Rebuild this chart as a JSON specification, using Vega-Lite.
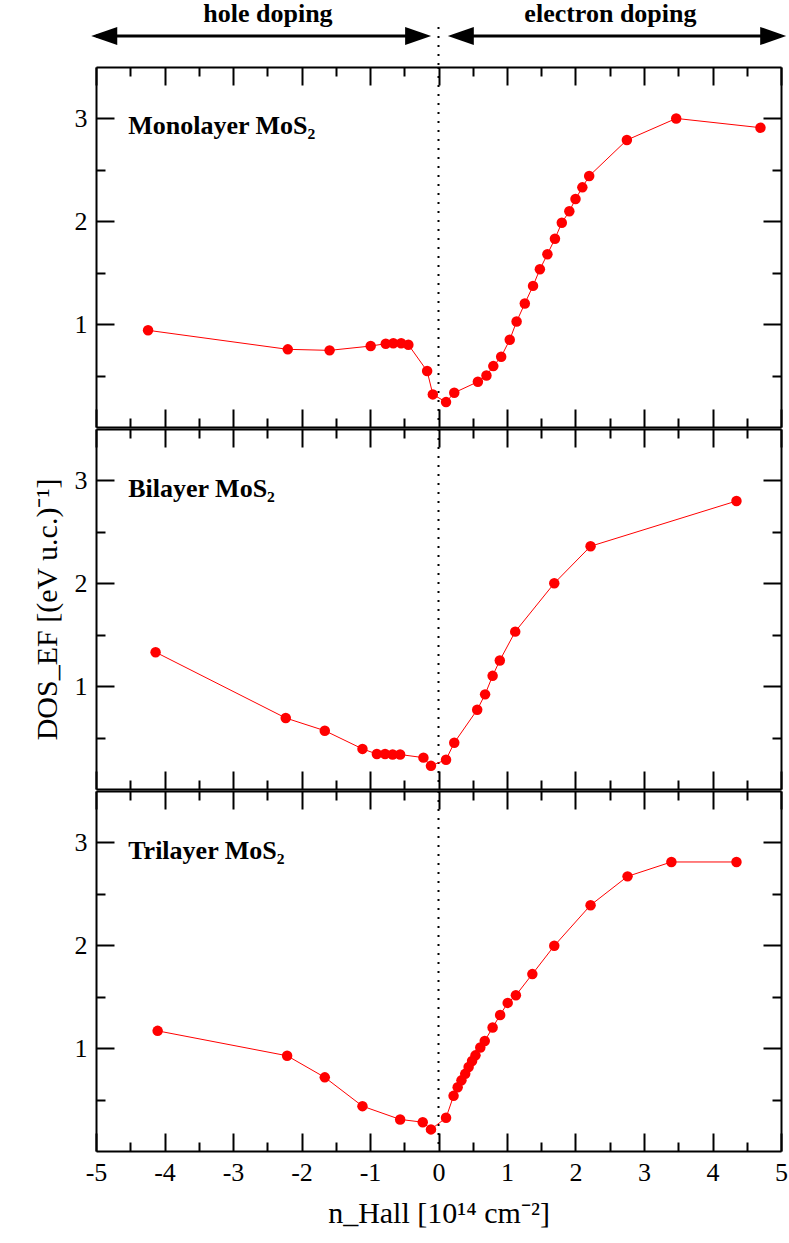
{
  "$schema": "https://vega.github.io/schema/vega-lite/v6.json",
  "padding": {"left": 32, "top": 1, "right": 0, "bottom": 0},
  "background": "white",
  "spacing": 0,
  "datasets": {
    "mono": [
      {"n": -4.24, "dos": 0.94}, {"n": -2.2, "dos": 0.755}, {"n": -1.59, "dos": 0.745}, {"n": -0.99, "dos": 0.787},
      {"n": -0.77, "dos": 0.81}, {"n": -0.66, "dos": 0.815}, {"n": -0.545, "dos": 0.815}, {"n": -0.44, "dos": 0.8},
      {"n": -0.166, "dos": 0.544}, {"n": -0.083, "dos": 0.317}, {"n": 0.11, "dos": 0.242}, {"n": 0.23, "dos": 0.333},
      {"n": 0.575, "dos": 0.44}, {"n": 0.7, "dos": 0.5}, {"n": 0.8, "dos": 0.592}, {"n": 0.915, "dos": 0.683},
      {"n": 1.04, "dos": 0.848}, {"n": 1.14, "dos": 1.025}, {"n": 1.26, "dos": 1.2}, {"n": 1.38, "dos": 1.372},
      {"n": 1.48, "dos": 1.533}, {"n": 1.59, "dos": 1.68}, {"n": 1.7, "dos": 1.83}, {"n": 1.8, "dos": 1.986},
      {"n": 1.91, "dos": 2.097}, {"n": 2.0, "dos": 2.216}, {"n": 2.1, "dos": 2.33}, {"n": 2.2, "dos": 2.44},
      {"n": 2.75, "dos": 2.79}, {"n": 3.47, "dos": 3.0}, {"n": 4.7, "dos": 2.91}
    ],
    "bi": [
      {"n": -4.13, "dos": 1.33}, {"n": -2.23, "dos": 0.69}, {"n": -1.66, "dos": 0.567}, {"n": -1.11, "dos": 0.39},
      {"n": -0.9, "dos": 0.34}, {"n": -0.78, "dos": 0.34}, {"n": -0.67, "dos": 0.335}, {"n": -0.56, "dos": 0.335},
      {"n": -0.22, "dos": 0.305}, {"n": -0.11, "dos": 0.225}, {"n": 0.11, "dos": 0.285}, {"n": 0.23, "dos": 0.45},
      {"n": 0.565, "dos": 0.77}, {"n": 0.68, "dos": 0.92}, {"n": 0.79, "dos": 1.1}, {"n": 0.895, "dos": 1.25},
      {"n": 1.12, "dos": 1.53}, {"n": 1.69, "dos": 2.0}, {"n": 2.22, "dos": 2.36}, {"n": 4.35, "dos": 2.8}
    ],
    "tri": [
      {"n": -4.1, "dos": 1.168}, {"n": -2.21, "dos": 0.926}, {"n": -1.66, "dos": 0.716}, {"n": -1.11, "dos": 0.436},
      {"n": -0.56, "dos": 0.307}, {"n": -0.23, "dos": 0.28}, {"n": -0.11, "dos": 0.21}, {"n": 0.11, "dos": 0.323},
      {"n": 0.22, "dos": 0.536}, {"n": 0.28, "dos": 0.62}, {"n": 0.335, "dos": 0.687}, {"n": 0.39, "dos": 0.75},
      {"n": 0.44, "dos": 0.816}, {"n": 0.49, "dos": 0.875}, {"n": 0.54, "dos": 0.93}, {"n": 0.61, "dos": 1.007},
      {"n": 0.675, "dos": 1.07}, {"n": 0.79, "dos": 1.2}, {"n": 0.9, "dos": 1.323}, {"n": 1.01, "dos": 1.44},
      {"n": 1.13, "dos": 1.514}, {"n": 1.37, "dos": 1.72}, {"n": 1.69, "dos": 1.995}, {"n": 2.22, "dos": 2.39},
      {"n": 2.76, "dos": 2.67}, {"n": 3.4, "dos": 2.81}, {"n": 4.35, "dos": 2.81}
    ]
  },
  "vconcat": [
    {
      "width": 685,
      "height": 64,
      "layer": [
        {
          "data": {"values": [{"x1": -5.0, "x2": -0.2, "y": 0.453}, {"x1": 0.25, "x2": 5.0, "y": 0.453}]},
          "mark": {"type": "rule", "strokeWidth": 3, "color": "black"},
          "encoding": {
            "x": {"field": "x1", "type": "quantitative", "scale": {"domain": [-5, 5], "nice": false, "zero": false}, "axis": null},
            "x2": {"field": "x2"},
            "y": {"field": "y", "type": "quantitative", "scale": {"domain": [0, 1], "nice": false, "zero": false}, "axis": null}
          }
        },
        {
          "data": {"values": [{"x": -4.88, "y": 0.453, "dir": "left"}, {"x": -0.297, "y": 0.453, "dir": "right"}, {"x": 0.326, "y": 0.453, "dir": "left"}, {"x": 4.886, "y": 0.453, "dir": "right"}]},
          "mark": {"type": "point", "filled": true, "color": "black", "opacity": 1, "strokeWidth": 0},
          "encoding": {
            "x": {"field": "x", "type": "quantitative", "scale": {"domain": [-5, 5], "nice": false, "zero": false}, "axis": null},
            "y": {"field": "y", "type": "quantitative", "scale": {"domain": [0, 1], "nice": false, "zero": false}, "axis": null},
            "shape": {"field": "dir", "type": "nominal", "scale": {"domain": ["left", "right"], "range": ["M-1,0L1,-0.7L1,0.7Z", "M1,0L-1,-0.7L-1,0.7Z"]}, "legend": null},
            "size": {"value": 676}
          }
        },
        {
          "data": {"values": [{"x": -2.49, "y": 0.79, "t": "hole doping"}, {"x": 2.51, "y": 0.79, "t": "electron doping"}]},
          "mark": {"type": "text", "font": "Liberation Serif", "fontWeight": "bold", "fontSize": 26, "baseline": "middle", "align": "center", "color": "black"},
          "encoding": {
            "x": {"field": "x", "type": "quantitative", "scale": {"domain": [-5, 5], "nice": false, "zero": false}, "axis": null},
            "y": {"field": "y", "type": "quantitative", "scale": {"domain": [0, 1], "nice": false, "zero": false}, "axis": null},
            "text": {"field": "t"}
          }
        },
        {
          "data": {"values": [{"x": 0, "y1": 0, "y2": 0.69}]},
          "mark": {"type": "rule", "strokeDash": [2, 7], "strokeWidth": 2, "color": "black"},
          "encoding": {
            "x": {"field": "x", "type": "quantitative", "scale": {"domain": [-5, 5], "nice": false, "zero": false}, "axis": null},
            "y": {"field": "y1", "type": "quantitative", "scale": {"domain": [0, 1], "nice": false, "zero": false}, "axis": null},
            "y2": {"field": "y2"}
          }
        }
      ]
    },
    {
      "width": 685,
      "height": 360,
      "data": {"name": "mono"},
      "resolve": {"axis": {"x": "independent", "y": "independent"}},
      "layer": [
        {
          "data": {"values": [{"z": 0}]},
          "mark": {"type": "rule", "strokeDash": [2, 7], "strokeWidth": 2, "color": "black"},
          "encoding": {"x": {"field": "z", "type": "quantitative", "scale": {"domain": [-5, 5], "nice": false, "zero": false}, "axis": null}}
        },
        {
          "mark": {"type": "line", "color": "#ff0000", "strokeWidth": 1},
          "encoding": {
            "x": {"field": "n", "type": "quantitative", "scale": {"domain": [-5, 5], "nice": false, "zero": false},
              "axis": {"orient": "bottom", "values": [-5, -4.5, -4, -3.5, -3, -2.5, -2, -1.5, -1, -0.5, 0, 0.5, 1, 1.5, 2, 2.5, 3, 3.5, 4, 4.5, 5], "tickSize": {"condition": {"test": "datum.value % 1 === 0", "value": -18}, "value": -9}, "labels": false, "title": null}},
            "y": {"field": "dos", "type": "quantitative", "scale": {"domain": [0, 3.5], "nice": false, "zero": false},
              "axis": {"orient": "left", "values": [0.5, 1, 1.5, 2, 2.5, 3], "tickSize": {"condition": {"test": "datum.value % 1 === 0", "value": -18}, "value": -9}, "labelExpr": "datum.value % 1 === 0 ? '' + datum.value : ''", "labelPadding": 27, "title": null}}
          }
        },
        {
          "mark": {"type": "point", "filled": true, "color": "#ff0000", "size": 110, "opacity": 1},
          "encoding": {
            "x": {"field": "n", "type": "quantitative", "scale": {"domain": [-5, 5], "nice": false, "zero": false},
              "axis": {"orient": "top", "values": [-5, -4.5, -4, -3.5, -3, -2.5, -2, -1.5, -1, -0.5, 0, 0.5, 1, 1.5, 2, 2.5, 3, 3.5, 4, 4.5, 5], "tickSize": {"condition": {"test": "datum.value % 1 === 0", "value": -18}, "value": -9}, "labels": false, "title": null}},
            "y": {"field": "dos", "type": "quantitative", "scale": {"domain": [0, 3.5], "nice": false, "zero": false},
              "axis": {"orient": "right", "values": [0.5, 1, 1.5, 2, 2.5, 3], "tickSize": {"condition": {"test": "datum.value % 1 === 0", "value": -18}, "value": -9}, "labels": false, "title": null}}
          }
        },
        {
          "data": {"values": [{"t": "Monolayer MoS₂", "x": -4.53, "y": 2.93}]},
          "mark": {"type": "text", "align": "left", "baseline": "middle", "fontSize": 26, "fontWeight": "bold", "font": "Liberation Serif", "color": "black"},
          "encoding": {
            "x": {"field": "x", "type": "quantitative", "scale": {"domain": [-5, 5], "nice": false, "zero": false}, "axis": null},
            "y": {"field": "y", "type": "quantitative", "scale": {"domain": [0, 3.5], "nice": false, "zero": false}, "axis": null},
            "text": {"field": "t"}
          }
        }
      ]
    },
    {
      "width": 685,
      "height": 360,
      "data": {"name": "bi"},
      "resolve": {"axis": {"x": "independent", "y": "independent"}},
      "layer": [
        {
          "data": {"values": [{"z": 0}]},
          "mark": {"type": "rule", "strokeDash": [2, 7], "strokeWidth": 2, "color": "black"},
          "encoding": {"x": {"field": "z", "type": "quantitative", "scale": {"domain": [-5, 5], "nice": false, "zero": false}, "axis": null}}
        },
        {
          "mark": {"type": "line", "color": "#ff0000", "strokeWidth": 1},
          "encoding": {
            "x": {"field": "n", "type": "quantitative", "scale": {"domain": [-5, 5], "nice": false, "zero": false},
              "axis": {"orient": "bottom", "values": [-5, -4.5, -4, -3.5, -3, -2.5, -2, -1.5, -1, -0.5, 0, 0.5, 1, 1.5, 2, 2.5, 3, 3.5, 4, 4.5, 5], "tickSize": {"condition": {"test": "datum.value % 1 === 0", "value": -18}, "value": -9}, "labels": false, "title": null}},
            "y": {"field": "dos", "type": "quantitative", "scale": {"domain": [0, 3.5], "nice": false, "zero": false},
              "axis": {"orient": "left", "values": [0.5, 1, 1.5, 2, 2.5, 3], "tickSize": {"condition": {"test": "datum.value % 1 === 0", "value": -18}, "value": -9}, "labelExpr": "datum.value % 1 === 0 ? '' + datum.value : ''", "labelPadding": 27, "title": "DOS_EF    [(eV u.c.)⁻¹]", "titlePadding": 12, "titleFontSize": 30}}
          }
        },
        {
          "mark": {"type": "point", "filled": true, "color": "#ff0000", "size": 110, "opacity": 1},
          "encoding": {
            "x": {"field": "n", "type": "quantitative", "scale": {"domain": [-5, 5], "nice": false, "zero": false},
              "axis": {"orient": "top", "values": [-5, -4.5, -4, -3.5, -3, -2.5, -2, -1.5, -1, -0.5, 0, 0.5, 1, 1.5, 2, 2.5, 3, 3.5, 4, 4.5, 5], "tickSize": {"condition": {"test": "datum.value % 1 === 0", "value": -18}, "value": -9}, "labels": false, "title": null}},
            "y": {"field": "dos", "type": "quantitative", "scale": {"domain": [0, 3.5], "nice": false, "zero": false},
              "axis": {"orient": "right", "values": [0.5, 1, 1.5, 2, 2.5, 3], "tickSize": {"condition": {"test": "datum.value % 1 === 0", "value": -18}, "value": -9}, "labels": false, "title": null}}
          }
        },
        {
          "data": {"values": [{"t": "Bilayer MoS₂", "x": -4.53, "y": 2.92}]},
          "mark": {"type": "text", "align": "left", "baseline": "middle", "fontSize": 26, "fontWeight": "bold", "font": "Liberation Serif", "color": "black"},
          "encoding": {
            "x": {"field": "x", "type": "quantitative", "scale": {"domain": [-5, 5], "nice": false, "zero": false}, "axis": null},
            "y": {"field": "y", "type": "quantitative", "scale": {"domain": [0, 3.5], "nice": false, "zero": false}, "axis": null},
            "text": {"field": "t"}
          }
        }
      ]
    },
    {
      "width": 685,
      "height": 360,
      "data": {"name": "tri"},
      "resolve": {"axis": {"x": "independent", "y": "independent"}},
      "layer": [
        {
          "data": {"values": [{"z": 0}]},
          "mark": {"type": "rule", "strokeDash": [2, 7], "strokeWidth": 2, "color": "black"},
          "encoding": {"x": {"field": "z", "type": "quantitative", "scale": {"domain": [-5, 5], "nice": false, "zero": false}, "axis": null}}
        },
        {
          "mark": {"type": "line", "color": "#ff0000", "strokeWidth": 1},
          "encoding": {
            "x": {"field": "n", "type": "quantitative", "scale": {"domain": [-5, 5], "nice": false, "zero": false},
              "axis": {"orient": "bottom", "values": [-5, -4.5, -4, -3.5, -3, -2.5, -2, -1.5, -1, -0.5, 0, 0.5, 1, 1.5, 2, 2.5, 3, 3.5, 4, 4.5, 5], "tickSize": {"condition": {"test": "datum.value % 1 === 0", "value": -18}, "value": -9}, "labelExpr": "datum.value % 1 === 0 ? '' + datum.value : ''", "labelPadding": 26, "title": "n_Hall    [10¹⁴ cm⁻²]", "titlePadding": 4, "titleFontSize": 30}},
            "y": {"field": "dos", "type": "quantitative", "scale": {"domain": [0, 3.5], "nice": false, "zero": false},
              "axis": {"orient": "left", "values": [0.5, 1, 1.5, 2, 2.5, 3], "tickSize": {"condition": {"test": "datum.value % 1 === 0", "value": -18}, "value": -9}, "labelExpr": "datum.value % 1 === 0 ? '' + datum.value : ''", "labelPadding": 27, "title": null}}
          }
        },
        {
          "mark": {"type": "point", "filled": true, "color": "#ff0000", "size": 110, "opacity": 1},
          "encoding": {
            "x": {"field": "n", "type": "quantitative", "scale": {"domain": [-5, 5], "nice": false, "zero": false},
              "axis": {"orient": "top", "values": [-5, -4.5, -4, -3.5, -3, -2.5, -2, -1.5, -1, -0.5, 0, 0.5, 1, 1.5, 2, 2.5, 3, 3.5, 4, 4.5, 5], "tickSize": {"condition": {"test": "datum.value % 1 === 0", "value": -18}, "value": -9}, "labels": false, "title": null}},
            "y": {"field": "dos", "type": "quantitative", "scale": {"domain": [0, 3.5], "nice": false, "zero": false},
              "axis": {"orient": "right", "values": [0.5, 1, 1.5, 2, 2.5, 3], "tickSize": {"condition": {"test": "datum.value % 1 === 0", "value": -18}, "value": -9}, "labels": false, "title": null}}
          }
        },
        {
          "data": {"values": [{"t": "Trilayer MoS₂", "x": -4.53, "y": 2.92}]},
          "mark": {"type": "text", "align": "left", "baseline": "middle", "fontSize": 26, "fontWeight": "bold", "font": "Liberation Serif", "color": "black"},
          "encoding": {
            "x": {"field": "x", "type": "quantitative", "scale": {"domain": [-5, 5], "nice": false, "zero": false}, "axis": null},
            "y": {"field": "y", "type": "quantitative", "scale": {"domain": [0, 3.5], "nice": false, "zero": false}, "axis": null},
            "text": {"field": "t"}
          }
        }
      ]
    }
  ],
  "config": {
    "view": {"stroke": null},
    "concat": {"spacing": 0},
    "font": "Liberation Serif",
    "axis": {
      "domainColor": "black",
      "domainWidth": 2,
      "tickColor": "black",
      "tickWidth": 2,
      "grid": false,
      "labelFont": "Liberation Serif",
      "labelFontSize": 26,
      "labelColor": "black",
      "labelFlush": false,
      "labelOverlap": false,
      "titleFont": "Liberation Serif",
      "titleFontSize": 28,
      "titleFontWeight": "normal",
      "titleColor": "black"
    }
  }
}
